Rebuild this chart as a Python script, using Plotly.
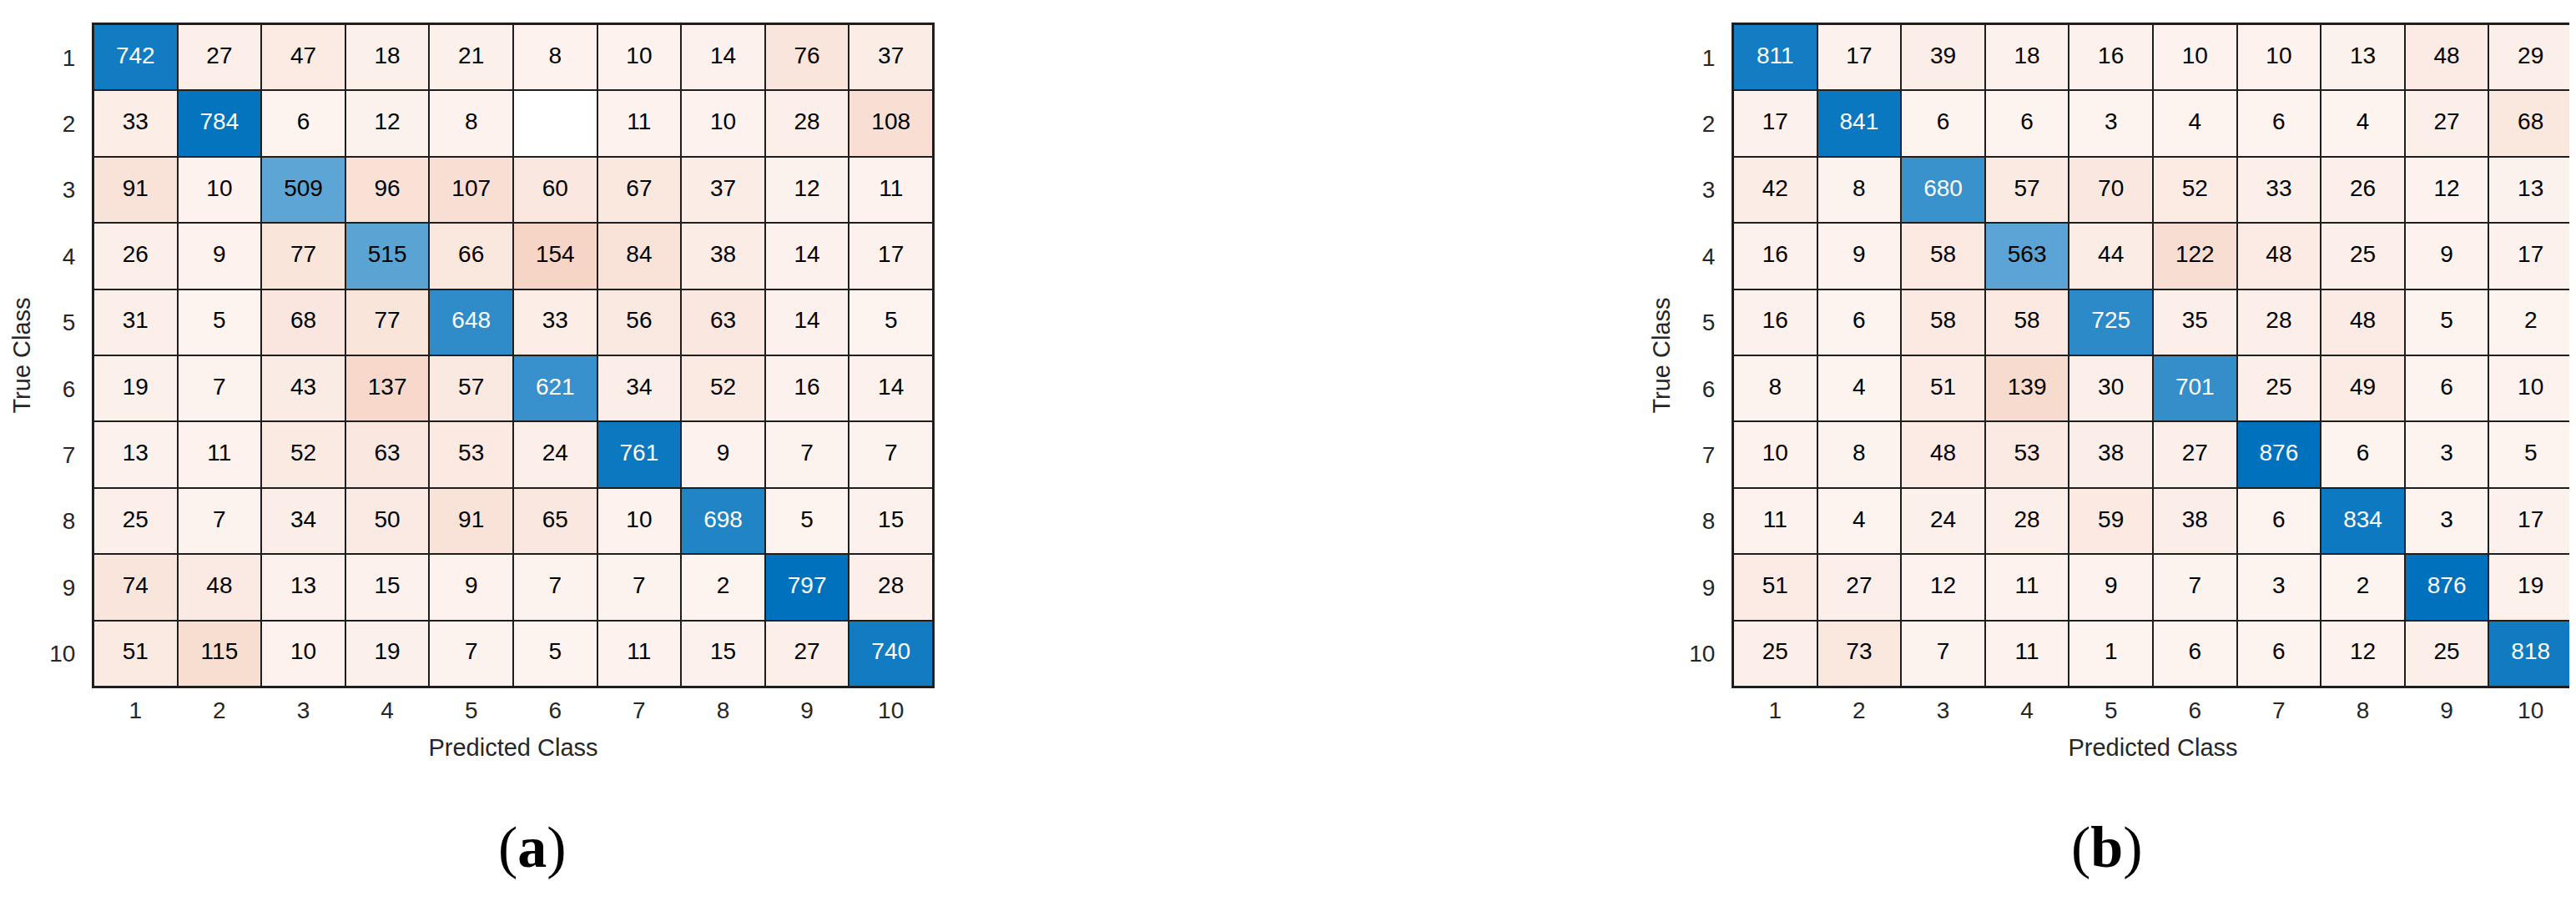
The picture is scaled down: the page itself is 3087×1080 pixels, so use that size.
import plotly.graph_objects as go
from plotly.subplots import make_subplots

# class labels shared by both charts
classes = [1, 2, 3, 4, 5, 6, 7, 8, 9, 10]

# (a) confusion matrix, rows = true class, cols = predicted class
cm_a = [
    [742, 27, 47, 18, 21, 8, 10, 14, 76, 37],
    [33, 784, 6, 12, 8, 0, 11, 10, 28, 108],
    [91, 10, 509, 96, 107, 60, 67, 37, 12, 11],
    [26, 9, 77, 515, 66, 154, 84, 38, 14, 17],
    [31, 5, 68, 77, 648, 33, 56, 63, 14, 5],
    [19, 7, 43, 137, 57, 621, 34, 52, 16, 14],
    [13, 11, 52, 63, 53, 24, 761, 9, 7, 7],
    [25, 7, 34, 50, 91, 65, 10, 698, 5, 15],
    [74, 48, 13, 15, 9, 7, 7, 2, 797, 28],
    [51, 115, 10, 19, 7, 5, 11, 15, 27, 740],
]

# (b) confusion matrix
cm_b = [
    [811, 17, 39, 18, 16, 10, 10, 13, 48, 29],
    [17, 841, 6, 6, 3, 4, 6, 4, 27, 68],
    [42, 8, 680, 57, 70, 52, 33, 26, 12, 13],
    [16, 9, 58, 563, 44, 122, 48, 25, 9, 17],
    [16, 6, 58, 58, 725, 35, 28, 48, 5, 2],
    [8, 4, 51, 139, 30, 701, 25, 49, 6, 10],
    [10, 8, 48, 53, 38, 27, 876, 6, 3, 5],
    [11, 4, 24, 28, 59, 38, 6, 834, 3, 17],
    [51, 27, 12, 11, 9, 7, 3, 2, 876, 19],
    [25, 73, 7, 11, 1, 6, 6, 12, 25, 818],
]

BLUE = 'rgb(0,114,189)'
ORANGE = 'rgb(217,83,25)'
LINE = '#1e1e1e'
FONT = 'Liberation Sans, Arial, sans-serif'

fig = make_subplots(rows=1, cols=2)


def add_matrix(cm, col):
    n = len(classes)
    vmax = max(max(r) for r in cm)
    diag = [[cm[i][j] if i == j else None for j in range(n)] for i in range(n)]
    off = [[cm[i][j] if i != j else None for j in range(n)] for i in range(n)]
    # zero stays white, any non-zero count gets at least a faint tint (like MATLAB)
    tiny = 0.5 / vmax
    fig.add_trace(go.Heatmap(x=classes, y=classes, z=off, zmin=0, zmax=vmax,
                             colorscale=[[0, 'white'], [tiny, 'rgb(253,244,240)'], [1, ORANGE]],
                             showscale=False, xgap=2, ygap=2, hoverinfo='skip'), row=1, col=col)
    fig.add_trace(go.Heatmap(x=classes, y=classes, z=diag, zmin=0, zmax=vmax,
                             colorscale=[[0, 'white'], [1, BLUE]], showscale=False,
                             xgap=2, ygap=2, hoverinfo='skip'), row=1, col=col)
    xs, ys, txt, cols = [], [], [], []
    for i in range(n):
        for j in range(n):
            v = cm[i][j]
            xs.append(classes[j])
            ys.append(classes[i])
            txt.append('' if v == 0 else str(v))
            cols.append('white' if (i == j and v / vmax > 0.7) else 'black')
    fig.add_trace(go.Scatter(x=xs, y=ys, text=txt, mode='text',
                             textfont=dict(family=FONT, size=28, color=cols),
                             hoverinfo='skip', showlegend=False), row=1, col=col)


add_matrix(cm_a, 1)
add_matrix(cm_b, 2)

W, H = 3087, 1080
ydom = [1 - 815 / H, 1 - 21 / H]
axis_common = dict(tickmode='array', tickvals=classes, ticks='', showgrid=False,
                   zeroline=False, showline=True, linecolor=LINE, linewidth=2, mirror=True,
                   tickfont=dict(family=FONT, size=28, color='#262626'))

fig.update_xaxes(**axis_common, range=[0.5, 10.5], ticklabelstandoff=2,
                 title=dict(text='Predicted Class', standoff=20,
                            font=dict(family=FONT, size=29, color='#262626')))
fig.update_yaxes(**axis_common, range=[10.5, 0.5], ticklabelstandoff=14,
                 title=dict(text='True Class', standoff=14,
                            font=dict(family=FONT, size=29, color='#262626')))

fig.update_layout(
    width=W, height=H,
    margin=dict(l=0, r=0, t=0, b=0),
    paper_bgcolor='white', plot_bgcolor=LINE,
    showlegend=False,
    xaxis=dict(domain=[104 / W, 1110 / W]),
    xaxis2=dict(domain=[2069 / W, 3075 / W]),
    yaxis=dict(domain=ydom),
    yaxis2=dict(domain=ydom),
    annotations=[
        dict(text='(<b>a</b>)', x=587 / W, y=1 - 1048 / H, xref='paper', yref='paper',
             showarrow=False, font=dict(family='Liberation Serif, Times New Roman, serif',
                                        size=70, color='black')),
        dict(text='(<b>b</b>)', x=2562 / W, y=1 - 1048 / H, xref='paper', yref='paper',
             showarrow=False, font=dict(family='Liberation Serif, Times New Roman, serif',
                                        size=70, color='black')),
    ],
)

fig.write_html("out.html")
